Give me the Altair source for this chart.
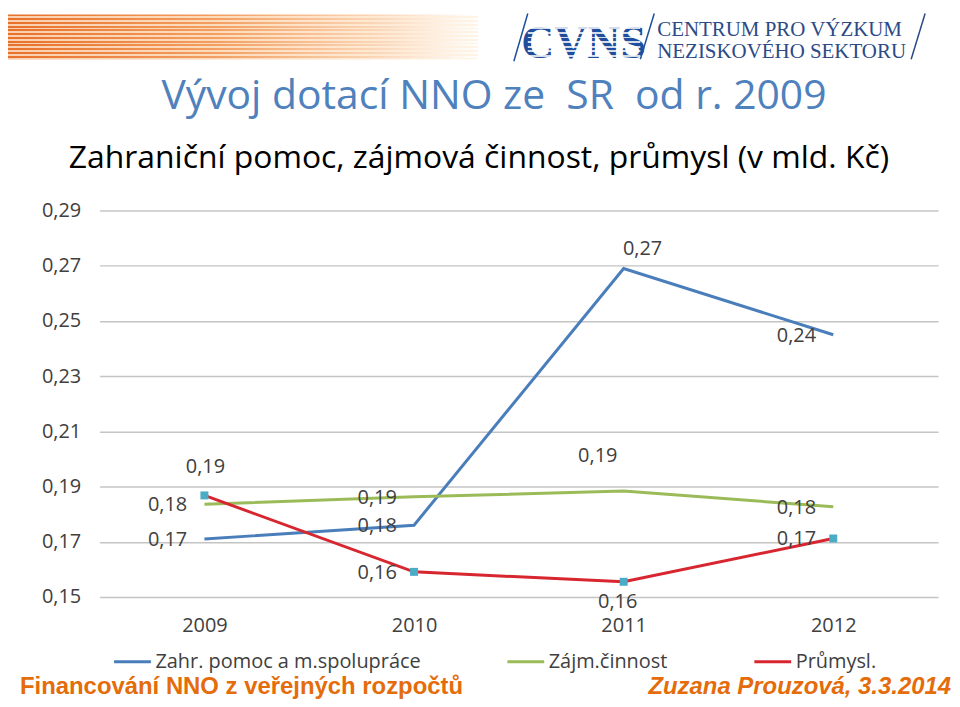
import altair as alt
import pandas as pd

# ---------------- data ----------------
years = ["2009", "2010", "2011", "2012"]
series_names = ["Zahr. pomoc a m.spolupráce", "Zájm.činnost", "Průmysl."]
zahr = [0.171, 0.176, 0.269, 0.245]
zajm = [0.1836, 0.1863, 0.1884, 0.1827]
prum = [0.1868, 0.1591, 0.1555, 0.1712]
y_ticks = [0.15, 0.17, 0.19, 0.21, 0.23, 0.25, 0.27, 0.29]

# label placement keywords (style, not data)
zahr_place = ["left", "left", "upright", "left"]
zajm_place = ["left", "left", "upleft", "left"]
prum_place = ["up", "left", "down", "left"]
offsets = {"left": (-37, 1), "upright": (19, -20), "upleft": (-26, -35),
           "up": (1, -29), "down": (-6, 20)}

colors = ["#4a7ebb", "#9bbb59", "#d7262f"]
marker_color = "#4bacc6"

rows = []
for name, vals, places in zip(series_names, [zahr, zajm, prum],
                              [zahr_place, zajm_place, prum_place]):
    for yr, v, p in zip(years, vals, places):
        rows.append({"year": yr, "series": name, "value": v, "place": p})
df = pd.DataFrame(rows)

FONT = "Open Sans"
W, H = 842, 388

base = alt.Chart(df)
x_enc = alt.X("year:O", scale=alt.Scale(type="point", padding=0.5),
              axis=alt.Axis(title=None, labelAngle=0, domain=False, ticks=False,
                            grid=False, labelFontSize=20, labelFont=FONT,
                            labelColor="#404040", labelPadding=19))
y_enc = alt.Y("value:Q",
              scale=alt.Scale(domain=[0.15, 0.29], nice=False, zero=False),
              axis=alt.Axis(title=None, values=y_ticks, domain=False, ticks=False,
                            labelExpr="replace(format(datum.value, '.2f'), '.', ',')",
                            labelFontSize=20, labelFont=FONT, labelColor="#404040",
                            labelPadding=19, gridColor="#c4c4c4", gridWidth=1.5))

lines = base.mark_line(strokeWidth=3).encode(
    x=x_enc, y=y_enc,
    color=alt.Color("series:N", sort=series_names,
                    scale=alt.Scale(domain=series_names, range=colors),
                    legend=alt.Legend(title=None, orient="none", direction="horizontal",
                                      legendX=13, legendY=433, symbolType="stroke",
                                      symbolSize=1369, symbolStrokeWidth=3,
                                      labelFont=FONT, labelFontSize=20, labelLimit=0,
                                      labelColor="#404040", labelOffset=3,
                                      columnPadding=80, padding=0)),
    detail="series:N",
)

points = base.transform_filter(alt.datum.series == "Průmysl.").mark_square(
    size=64, color=marker_color, opacity=1).encode(x=x_enc, y=y_enc)

label_layers = []
for key, (dx, dy) in offsets.items():
    label_layers.append(
        base.transform_filter(alt.datum.place == key)
        .transform_calculate(lbl="replace(format(datum.value, '.2f'), '.', ',')")
        .mark_text(dx=dx, dy=dy, font=FONT, fontSize=20, color="#404040",
                   align="center", baseline="middle")
        .encode(x=x_enc, y=y_enc, text="lbl:N")
    )

one = pd.DataFrame({"k": [0]})
deco = alt.Chart(one)

# transparent frame covering the full page area (plot origin at chart 92,202)
bg = deco.mark_rect(fill="white", fillOpacity=0).encode(
    x=alt.value(-92), x2=alt.value(856), y=alt.value(-202), y2=alt.value(491))

# orange striped bar top-left
orange = deco.mark_rect(fill=alt.LinearGradient(
    gradient="linear", x1=0, x2=1, y1=0, y2=0,
    stops=[alt.GradientStop(offset=0, color="#e8702a"),
           alt.GradientStop(offset=0.45, color="#f3a062"),
           alt.GradientStop(offset=0.8, color="#fbd9bd"),
           alt.GradientStop(offset=1, color="#ffffff")])).encode(
    x=alt.value(-92), x2=alt.value(380), y=alt.value(-197), y2=alt.value(-152))

stripe_stops = []
n_str = 12
for i in range(n_str):
    a = i / n_str
    b = (i + 0.55) / n_str
    c = (i + 1) / n_str
    stripe_stops += [alt.GradientStop(offset=a, color="rgba(255,255,255,0)"),
                     alt.GradientStop(offset=b, color="rgba(255,255,255,0)"),
                     alt.GradientStop(offset=b, color="rgba(255,240,220,0.75)"),
                     alt.GradientStop(offset=c, color="rgba(255,240,220,0.75)")]
stripes = deco.mark_rect(fill=alt.LinearGradient(
    gradient="linear", x1=0, x2=0, y1=0, y2=1, stops=stripe_stops)).encode(
    x=alt.value(-92), x2=alt.value(380), y=alt.value(-197), y2=alt.value(-152))

# logo
logo_blue = "#1f4f9c"
logo_text_blue = "#2c4a86"
slash1 = deco.mark_rule(color=logo_blue, strokeWidth=1.5).encode(
    x=alt.value(416), x2=alt.value(430), y=alt.value(-150), y2=alt.value(-198))
slash2 = deco.mark_rule(color=logo_blue, strokeWidth=1.5).encode(
    x=alt.value(543), x2=alt.value(557), y=alt.value(-152), y2=alt.value(-198))
slash3 = deco.mark_rule(color=logo_text_blue, strokeWidth=1.5).encode(
    x=alt.value(815), x2=alt.value(829), y=alt.value(-152), y2=alt.value(-198))
cvns = deco.mark_text(text="CVNS", font="Liberation Serif", fontSize=46,
                      fontWeight="bold", color=logo_blue, align="center",
                      baseline="alphabetic").encode(x=alt.value(486), y=alt.value(-153))
cvns_stops = []
n_c = 10
for i in range(n_c):
    a = i / n_c
    b = (i + 0.6) / n_c
    c = (i + 1) / n_c
    cvns_stops += [alt.GradientStop(offset=a, color="rgba(255,255,255,0)"),
                   alt.GradientStop(offset=b, color="rgba(255,255,255,0)"),
                   alt.GradientStop(offset=b, color="rgba(255,255,255,0.8)"),
                   alt.GradientStop(offset=c, color="rgba(255,255,255,0.8)")]
cvns_str = deco.mark_rect(fill=alt.LinearGradient(
    gradient="linear", x1=0, x2=0, y1=0, y2=1, stops=cvns_stops)).encode(
    x=alt.value(430), x2=alt.value(543), y=alt.value(-196), y2=alt.value(-150))
logo1 = deco.mark_text(text="CENTRUM PRO VÝZKUM", font="Liberation Serif", fontSize=21,
                       color=logo_text_blue, align="left", baseline="alphabetic").encode(
    x=alt.value(560), y=alt.value(-175))
logo2 = deco.mark_text(text="NEZISKOVÉHO SEKTORU", font="Liberation Serif", fontSize=21,
                       color=logo_text_blue, align="left", baseline="alphabetic").encode(
    x=alt.value(560), y=alt.value(-153))

# titles
title = deco.mark_text(text="Vývoj dotací NNO ze\u00a0 SR\u00a0 od r. 2009", font=FONT,
                       fontSize=41, color="#4f81bd", align="center",
                       baseline="alphabetic").encode(x=alt.value(396), y=alt.value(-102))
subtitle = deco.mark_text(text="Zahraniční pomoc, zájmová činnost, průmysl (v mld. Kč)",
                          font=FONT, fontSize=32, color="#000000", align="center",
                          baseline="alphabetic").encode(x=alt.value(381), y=alt.value(-43))

# footer
orange_txt = "#e46c0a"
foot1 = deco.mark_text(text="Financování NNO z veřejných rozpočtů", font="Liberation Sans",
                       fontSize=24, fontWeight="bold", color=orange_txt, align="left",
                       baseline="alphabetic").encode(x=alt.value(-80), y=alt.value(485))
foot2 = deco.mark_text(text="Zuzana Prouzová, 3.3.2014", font="Liberation Sans",
                       fontSize=24, fontWeight="bold", fontStyle="italic", color=orange_txt,
                       align="right", baseline="alphabetic").encode(
    x=alt.value(855), y=alt.value(485))

chart = alt.layer(
    bg, orange, stripes, slash1, slash2, slash3, cvns, cvns_str, logo1, logo2,
    title, subtitle, foot1, foot2,
    lines, points, *label_layers
).properties(width=W, height=H, padding=0, background="white").configure_view(stroke=None)

chart.save("out.html", embed_options={"renderer": "svg", "actions": False})
